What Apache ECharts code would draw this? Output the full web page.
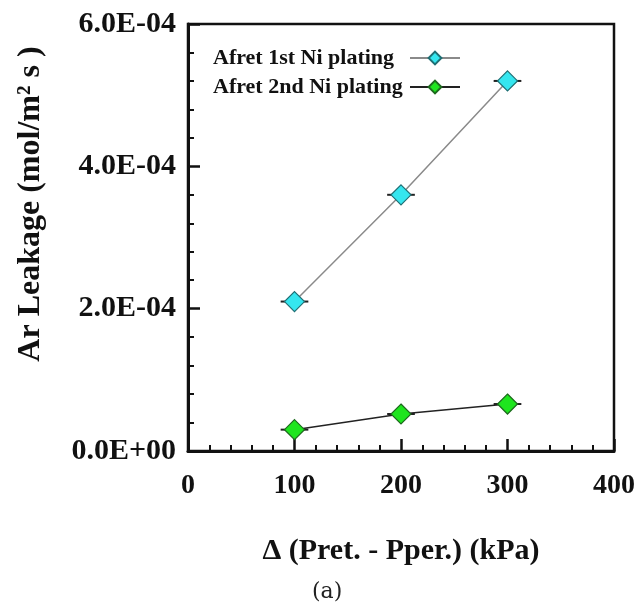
<!DOCTYPE html>
<html>
<head>
<meta charset="utf-8">
<script src="https://cdn.jsdelivr.net/npm/echarts@6/dist/echarts.min.js"></script>
<style>
  html, body { margin: 0; padding: 0; background: #fff; }
  #chart { width: 638px; height: 602px; }
</style>
</head>
<body>
<div id="chart"></div>
<script>
// values
var pressure = [100, 200, 300];                 // Δ (Pret. - Pper.) kPa
var firstPlating = [2.1e-4, 3.6e-4, 5.2e-4];    // Afret 1st Ni plating
var secondPlating = [3.0e-5, 5.2e-5, 6.6e-5];   // Afret 2nd Ni plating
var xError = [13, 13, 13];                      // horizontal error bar half-width
var seriesNames = ['Afret 1st Ni plating', 'Afret 2nd Ni plating'];

var serif = '"Liberation Serif", "Times New Roman", serif';

function pairs(xs, ys) {
    return xs.map(function (x, i) { return [x, ys[i]]; });
}

// [x - err, x + err, y] for the horizontal error bars
function errorRows(ys) {
    return pressure.map(function (x, i) { return [x - xError[i], x + xError[i], ys[i]]; });
}

function renderBar(params, api) {
    var a = api.coord([api.value(0), api.value(2)]);
    var b = api.coord([api.value(1), api.value(2)]);
    return {
        type: 'line',
        shape: { x1: a[0], y1: a[1], x2: b[0], y2: b[1] },
        style: { stroke: '#222', lineWidth: 2 }
    };
}

function sciLabel(v) {
    var s = Number(v).toExponential(1).toUpperCase();
    return s.replace(/E([+-])(\d)$/, 'E$10$2');
}

var dom = document.getElementById('chart');
var myChart = echarts.init(dom);
var option = {
    animation: false,
    title: {
        text: '(a)',
        left: 312,
        top: 581,
        padding: 0,
        textStyle: { fontFamily: '"DejaVu Serif", serif', fontWeight: 'normal', fontSize: 22, color: '#222' }
    },
    grid: {
        left: 188, right: 23, top: 24, bottom: 151,
        show: true, borderColor: '#111', borderWidth: 2.5
    },
    legend: {
        data: seriesNames,
        orient: 'vertical',
        left: 213,
        top: 47,
        padding: 0,
        itemGap: 7,
        itemWidth: 50,
        itemHeight: 16,
        align: 'right',
        formatter: function (name) { return '{t|' + name + '}'; },
        textStyle: {
            fontFamily: serif, fontWeight: 'bold', fontSize: 22, color: '#111',
            rich: { t: { width: 192, align: 'left', fontFamily: serif, fontWeight: 'bold', fontSize: 22, color: '#111' } }
        }
    },
    xAxis: {
        type: 'value',
        min: 0, max: 400, interval: 100,
        name: 'Δ (Pret. - Pper.) (kPa)',
        nameLocation: 'middle',
        nameGap: 85,
        nameTextStyle: { fontFamily: serif, fontWeight: 'bold', fontSize: 30, color: '#111' },
        axisLine: { lineStyle: { color: '#111', width: 3 } },
        axisTick: { inside: true, length: 12, lineStyle: { color: '#111', width: 2.5 } },
        minorTick: { show: true, splitNumber: 5, length: 6, lineStyle: { color: '#111', width: 2 } },
        axisLabel: { margin: 21, fontFamily: serif, fontWeight: 'bold', fontSize: 28, color: '#111' },
        splitLine: { show: false }
    },
    yAxis: {
        type: 'value',
        min: 0, max: 6e-4, interval: 2e-4,
        axisLine: { lineStyle: { color: '#111', width: 3 } },
        axisTick: { inside: true, length: 12, lineStyle: { color: '#111', width: 2.5 } },
        minorTick: { show: true, splitNumber: 5, length: 6, lineStyle: { color: '#111', width: 2 } },
        axisLabel: {
            margin: 12, fontFamily: serif, fontWeight: 'bold', fontSize: 30, color: '#111',
            formatter: sciLabel
        },
        splitLine: { show: false }
    },
    graphic: [{
        type: 'text',
        x: 31, y: 204,
        rotation: Math.PI / 2,
        style: {
            text: 'Ar Leakage (mol/m² s )',
            fontFamily: serif, fontWeight: 'bold', fontSize: 32, fill: '#111',
            align: 'center', verticalAlign: 'middle'
        }
    }],
    series: [
        {
            type: 'custom',
            renderItem: renderBar,
            data: errorRows(firstPlating),
            z: 1
        },
        {
            type: 'custom',
            renderItem: renderBar,
            data: errorRows(secondPlating),
            z: 1
        },
        {
            name: seriesNames[0],
            type: 'line',
            data: pairs(pressure, firstPlating),
            symbol: 'diamond',
            symbolSize: 20,
            lineStyle: { color: '#8a8a8a', width: 1.5 },
            itemStyle: { color: '#35e6ef', borderColor: '#1f6f74', borderWidth: 1.2 },
            z: 3
        },
        {
            name: seriesNames[1],
            type: 'line',
            data: pairs(pressure, secondPlating),
            symbol: 'diamond',
            symbolSize: 20,
            lineStyle: { color: '#222', width: 1.5 },
            itemStyle: { color: '#1ee51e', borderColor: '#1d6a1d', borderWidth: 1.2 },
            z: 3
        }
    ]
};

if (option && typeof option === 'object') {
    myChart.setOption(option);
}
</script>
</body>
</html>
